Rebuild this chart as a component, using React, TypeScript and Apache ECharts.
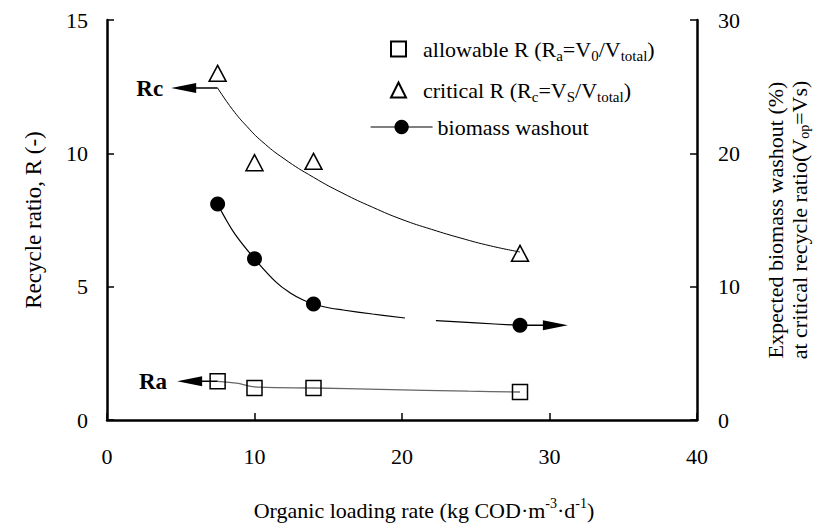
import React, { useEffect, useRef } from 'react';
import * as echarts from 'echarts';

// ---- data ----
const loadingRate = [7.5, 10, 14, 28];
const allowableR = [1.45, 1.2, 1.2, 1.05];
const criticalR = [13.0, 9.65, 9.7, 6.25];
const washoutPct = [16.2, 12.1, 8.7, 7.1];

// fitted critical-R curve (left axis)
const rcCurveX = [7.5, 8.5, 9.5, 10.5, 12, 14, 16, 18, 20, 22, 24, 26, 28];
const rcCurveY = [12.45, 11.65, 11.0, 10.45, 9.8, 9.1, 8.5, 7.98, 7.52, 7.15, 6.82, 6.53, 6.3];

// allowable-R connecting line (left axis)
const raLineX = [7.5, 8.8, 10, 14, 18.5, 24.5, 28];
const raLineY = [1.45, 1.38, 1.24, 1.2, 1.15, 1.08, 1.05];

// biomass washout curve (right axis), intermediate points; gap between 20.2 and 22.3
const washSeg1X = [7.88, 8.7, 11.5, 12.4, 13.3, 15.1, 16.0, 18.0, 20.2];
const washSeg1Y = [15.4, 13.9, 10.3, 9.55, 9.0, 8.4, 8.25, 7.95, 7.65];
const washSeg2X = [22.3, 25.0];
const washSeg2Y = [7.45, 7.28];

// annotation arrows: [fromX, headCenterX, y]
const rcArrow = [7.5, 5.2, 12.45];
const raArrow = [7.5, 5.6, 1.45];
const washArrow = [28, 30.4, 7.1];
const arrowLabels = ['Rc', 'Ra'];

const xRange = { min: 0, max: 40, interval: 10 };
const yLeftRange = { min: 0, max: 15, interval: 5 };
const yRightRange = { min: 0, max: 30, interval: 10 };

const F = 'Liberation Serif';

function makeRich() {
  return {
    n: { fontFamily: F, fontSize: 22, lineHeight: 28, color: '#000' },
    s: { fontFamily: F, fontSize: 15, lineHeight: 16, verticalAlign: 'bottom', color: '#000' },
    p: { fontFamily: F, fontSize: 14, lineHeight: 14, verticalAlign: 'top', color: '#000' },
    g: { fontFamily: F, fontSize: 22, width: 12, lineHeight: 28 },
  };
}

const legendText: Record<string, string> = {
  'allowable R': '{g|}{n|allowable R (R}{s|a}{n|=V}{s|0}{n|/V}{s|total}{n|)}',
  'critical R': '{g|}{n|critical R (R}{s|c}{n|=V}{s|S}{n|/V}{s|total}{n|)}',
  'biomass washout': '{n|biomass washout}',
};

function shaft(a: number[], yAxisIndex: number) {
  return {
    name: 'shaft',
    type: 'line',
    yAxisIndex,
    symbol: 'none',
    silent: true,
    lineStyle: { color: '#000', width: 1.5 },
    data: [
      [a[0], a[2]],
      [a[1], a[2]],
    ],
    z: 2,
  };
}

function head(a: number[], yAxisIndex: number, rotate: number) {
  return {
    name: 'head',
    type: 'scatter',
    yAxisIndex,
    symbol: 'triangle',
    symbolSize: [10, 25],
    symbolRotate: rotate,
    silent: true,
    itemStyle: { color: '#000', opacity: 1 },
    data: [[a[1], a[2]]],
    z: 3,
  };
}

function mergeWash(segX: number[], segY: number[], dotIdx: number[]) {
  const pts: any[] = [];
  segX.forEach((x, i) => pts.push({ value: [x, segY[i]], symbol: 'none' }));
  dotIdx.forEach((i) => pts.push({ value: [loadingRate[i], washoutPct[i]] }));
  pts.sort((a, b) => a.value[0] - b.value[0]);
  return pts;
}

export default function App() {
  const ref = useRef<HTMLDivElement>(null);
  useEffect(() => {
    if (!ref.current) return;
    const chart = echarts.init(ref.current, undefined, { renderer: 'svg' });
    const mkAxisLine = () => ({ show: true, lineStyle: { color: '#000', width: 2.5 } });
    const mkAxisTick = () => ({ show: true, inside: true, length: 7, lineStyle: { color: '#000', width: 1.5 } });
    const mkAxisLabel = (margin: number) => ({ fontFamily: F, fontSize: 22, color: '#000', margin });
    const mkLegend = (name: string, left: number, top: number, extra: any = {}) => ({
      orient: 'horizontal',
      padding: 0,
      itemHeight: 15,
      itemWidth: 15,
      selectedMode: false,
      data: [name],
      left,
      top,
      textStyle: { fontFamily: F, fontSize: 22, color: '#000', rich: makeRich() },
      formatter: (n: string) => legendText[n] || n,
      ...extra,
    });
    const markerStyle = { color: 'rgba(255,255,255,0)', borderColor: '#000', borderWidth: 1.5, opacity: 1 };
    chart.setOption({
      animation: false,
      backgroundColor: '#fff',
      textStyle: { fontFamily: F },
      grid: { left: 107, right: 135, top: 20, bottom: 110, containLabel: false },
      legend: [
        mkLegend('allowable R', 390, 38),
        mkLegend('critical R', 390, 79),
        mkLegend('biomass washout', 370, 116, {
          itemWidth: 62,
          itemHeight: 18,
          lineStyle: { color: '#000', width: 1.2, opacity: 1 },
        }),
      ],
      xAxis: {
        type: 'value',
        ...xRange,
        axisLine: mkAxisLine(),
        axisTick: mkAxisTick(),
        splitLine: { show: false },
        axisLabel: mkAxisLabel(25),
        name: '{n|Organic loading rate (kg COD·m}{p|-3}{n|·d}{p|-1}{n|)}',
        nameLocation: 'middle',
        nameGap: 76,
        nameTextStyle: { fontFamily: F, fontSize: 22, color: '#000', rich: makeRich(), padding: [0, 0, 0, 44] },
      },
      yAxis: [
        {
          type: 'value',
          position: 'left',
          ...yLeftRange,
          axisLine: mkAxisLine(),
          axisTick: mkAxisTick(),
          splitLine: { show: false },
          axisLabel: mkAxisLabel(19),
          name: 'Recycle ratio, R (-)',
          nameLocation: 'middle',
          nameGap: 62,
          nameTextStyle: { fontFamily: F, fontSize: 23, color: '#000' },
        },
        {
          type: 'value',
          position: 'right',
          ...yRightRange,
          axisLine: mkAxisLine(),
          axisTick: mkAxisTick(),
          splitLine: { show: false },
          axisLabel: mkAxisLabel(21),
          name: '{n|Expected biomass washout (%)}\n{n|at critical recycle ratio(V}{s|op}{n|=Vs)}',
          nameLocation: 'middle',
          nameRotate: 90,
          nameGap: 66,
          nameTextStyle: {
            fontFamily: F,
            fontSize: 22,
            color: '#000',
            rich: {
              n: { fontFamily: F, fontSize: 22, lineHeight: 24, color: '#000' },
              s: { fontFamily: F, fontSize: 14, lineHeight: 14, verticalAlign: 'bottom', color: '#000' },
            },
          },
        },
      ],
      series: [
        {
          name: 'rc-fit',
          type: 'line',
          yAxisIndex: 0,
          smooth: 0.5,
          symbol: 'none',
          lineStyle: { color: '#000', width: 1 },
          data: rcCurveX.map((x, i) => [x, rcCurveY[i]]),
          z: 2,
        },
        {
          name: 'ra-line',
          type: 'line',
          yAxisIndex: 0,
          smooth: 0.3,
          symbol: 'none',
          lineStyle: { color: '#666', width: 1.3 },
          data: raLineX.map((x, i) => [x, raLineY[i]]),
          z: 2,
        },
        shaft(rcArrow, 0),
        shaft(raArrow, 0),
        shaft(washArrow, 1),
        head(rcArrow, 0, 90),
        head(raArrow, 0, 90),
        head(washArrow, 1, -90),
        {
          name: 'biomass washout',
          type: 'line',
          yAxisIndex: 1,
          smooth: 0.4,
          symbol: 'circle',
          symbolSize: 15,
          showAllSymbol: true,
          itemStyle: { color: '#000', opacity: 1 },
          lineStyle: { color: '#000', width: 1.2 },
          data: mergeWash(washSeg1X, washSeg1Y, [0, 1, 2]),
          z: 3,
        },
        {
          name: 'washout-tail',
          type: 'line',
          yAxisIndex: 1,
          smooth: 0.3,
          symbol: 'circle',
          symbolSize: 15,
          showAllSymbol: true,
          itemStyle: { color: '#000', opacity: 1 },
          lineStyle: { color: '#000', width: 1.2 },
          data: mergeWash(washSeg2X, washSeg2Y, [3]),
          z: 3,
        },
        {
          name: 'allowable R',
          type: 'scatter',
          yAxisIndex: 0,
          symbol: 'rect',
          symbolSize: 15,
          itemStyle: markerStyle,
          data: loadingRate.map((x, i) => [x, allowableR[i]]),
          z: 4,
        },
        {
          name: 'critical R',
          type: 'scatter',
          yAxisIndex: 0,
          symbol: 'triangle',
          symbolSize: [17, 16],
          itemStyle: markerStyle,
          data: loadingRate.map((x, i) => [x, criticalR[i]]),
          z: 4,
        },
      ],
    });
    // Rc / Ra labels placed at the arrow tips through the chart's own scales
    const arrows = [rcArrow, raArrow];
    const gaps = [8, 10];
    const graphic = arrows.map((a, i) => {
      const p = chart.convertToPixel({ xAxisIndex: 0, yAxisIndex: 0 }, [a[1], a[2]]) as number[];
      return {
        type: 'text',
        x: p[0] - 12.5 - gaps[i],
        y: p[1],
        silent: true,
        style: {
          text: arrowLabels[i],
          fontFamily: F,
          fontWeight: 'bold',
          fontSize: 23,
          fill: '#000',
          align: 'right',
          verticalAlign: 'middle',
        },
      };
    });
    chart.setOption({ graphic });
    return () => chart.dispose();
  }, []);
  return (
    <div
      ref={ref}
      style={{ position: 'absolute', left: 0, top: 0, width: 832, height: 530, background: '#fff' }}
    />
  );
}
